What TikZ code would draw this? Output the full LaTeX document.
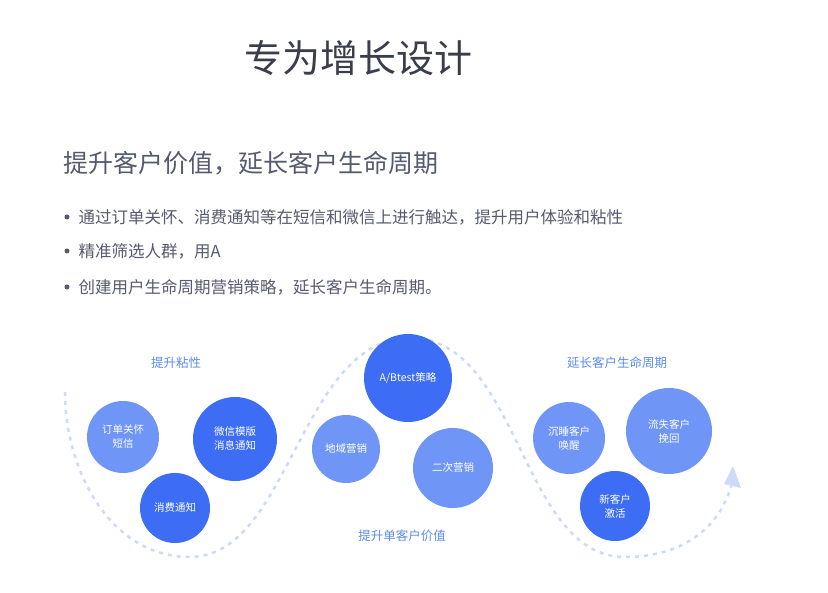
\documentclass[tikz,border=0pt]{standalone}
\usepackage{fontspec}
\setmainfont{Noto Sans CJK SC}
\usetikzlibrary{arrows.meta}
\definecolor{deepblue}{HTML}{3D6CF5}
\definecolor{softblue}{HTML}{6F95F6}
\definecolor{labelblue}{HTML}{5B8BEE}
\definecolor{waveblue}{HTML}{CCDBF8}
\definecolor{headgray}{HTML}{3A3D4A}
\definecolor{textgray}{HTML}{555A6E}
\tikzset{
  bubble/.style={circle, minimum size=#1, inner sep=0pt, text=white, font=\fontsize{10.5}{14}\selectfont, align=center},
  deep/.style={bubble=#1, fill=deepblue},
  soft/.style={bubble=#1, fill=softblue},
  group/.style={text=labelblue, font=\fontsize{12.5}{15}\selectfont},
  item/.style={anchor=west, text=textgray, font=\fontsize{16.5}{20}\selectfont}
}
\begin{document}
\begin{tikzpicture}[x=1pt,y=-1pt]
\useasboundingbox (0,0) rectangle (828,593);
% heading
\node[text=headgray, font=\fontsize{38}{44}\selectfont] (title) at (358,58) {专为增长设计};
\node[anchor=west, text=textgray, font=\fontsize{25}{30}\selectfont] (sub) at (60,163) {提升客户价值，延长客户生命周期};
\foreach \y/\t in {217/通过订单关怀、消费通知等在短信和微信上进行触达，提升用户体验和粘性,
                   251/精准筛选人群，用A/Btest等合适的策略，最大化单客户价值,
                   287/创建用户生命周期营销策略，延长客户生命周期。}{
  \fill[textgray] (67,\y) circle (2.5);
  \node[item] at (75,\y) {\t};
}
% wave
\coordinate (w0) at (65,392);
\coordinate (w1) at (190,557);
\coordinate (w2) at (410,338);
\coordinate (w3) at (625,557);
\coordinate (w4) at (733,478);
\draw[waveblue, line width=2.5pt, dash pattern=on 4pt off 5pt]
  (w0) .. controls (65,470) and (110,557) .. (w1)
  .. controls (290,557) and (300,338) .. (w2)
  .. controls (520,338) and (520,557) .. (w3)
  .. controls (690,557) and (725,520) .. (w4);
\fill[waveblue] (733,466) -- (741,488) -- (724,484) -- cycle;
% bubbles
\node[soft=72]  (sms)    at (123,437) {订单关怀\\短信};
\node[deep=84]  (wechat) at (235,439) {微信模版\\消息通知};
\node[deep=70]  (notice) at (175,508) {消费通知};
\node[deep=88]  (abtest) at (408,378) {A/Btest策略};
\node[soft=68]  (region) at (346,449) {地域营销};
\node[soft=80]  (second) at (453,468) {二次营销};
\node[soft=72]  (sleep)  at (569,438) {沉睡客户\\唤醒};
\node[soft=86]  (lost)   at (669,431) {流失客户\\挽回};
\node[deep=70]  (new)    at (615,506) {新客户\\激活};
% group labels
\node[group] (g1) at (176,363) {提升粘性};
\node[group] (g2) at (617,363) {延长客户生命周期};
\node[group] (g3) at (402,536) {提升单客户价值};
\end{tikzpicture}
\end{document}
